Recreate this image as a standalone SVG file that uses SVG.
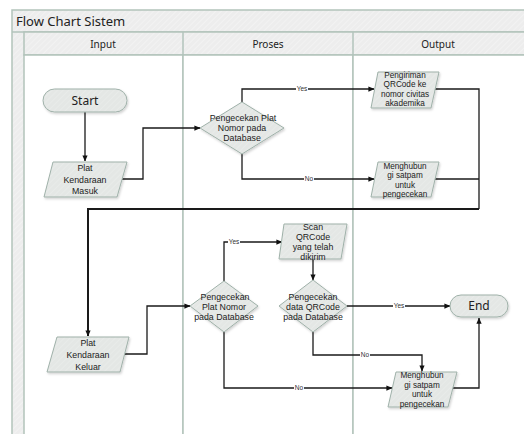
<svg xmlns="http://www.w3.org/2000/svg" width="524" height="434" viewBox="0 0 524 434">
  <defs>
    <pattern id="hatch" width="4" height="4" patternUnits="userSpaceOnUse" patternTransform="rotate(45)">
      <rect width="4" height="4" fill="#ededed"/>
      <line x1="0" y1="0" x2="0" y2="4" stroke="#f6f6f6" stroke-width="1.2"/>
    </pattern>
    <pattern id="shapeFill" width="4" height="4" patternUnits="userSpaceOnUse" patternTransform="rotate(45)">
      <rect width="4" height="4" fill="#e4e7e5"/>
      <line x1="0" y1="0" x2="0" y2="4" stroke="#eceeed" stroke-width="1.2"/>
    </pattern>
    <filter id="shadow" x="-20%" y="-20%" width="140%" height="150%">
      <feDropShadow dx="1" dy="1.5" stdDeviation="0.8" flood-color="#000" flood-opacity="0.18"/>
    </filter>
    <marker id="arrow" viewBox="0 0 8 8" refX="7.5" refY="4" markerWidth="6" markerHeight="6" orient="auto" markerUnits="userSpaceOnUse">
      <path d="M0,0.5 L8,4 L0,7.5 Z" fill="#111"/>
    </marker>
  </defs>
  <style>
    .pool { fill: url(#hatch); stroke: #b2c3bb; stroke-width: 1.5; }
    .lane { fill: #ffffff; stroke: #b2c3bb; stroke-width: 1.5; }
    .shape { fill: url(#shapeFill); stroke: #9fb1a9; stroke-width: 1; filter: url(#shadow); }
    .edge { fill: none; stroke: #1a1a1a; stroke-width: 1.3; }
    .edge-thick { fill: none; stroke: #1a1a1a; stroke-width: 2; }
    text { font-family: "Noto Sans", "DejaVu Sans", sans-serif; fill: #222; text-anchor: middle; }
    .title { font-size: 13px; text-anchor: start; }
    .head { font-size: 10px; }
    .term { font-size: 12px; }
    .node { font-family: "Liberation Sans", Arial, sans-serif; font-size: 8.8px; }
    .small { font-family: "Liberation Sans", Arial, sans-serif; font-size: 8.2px; }
    .lbl { font-family: "Liberation Sans", Arial, sans-serif; font-size: 6.5px; fill: #333; }
    .lblbg { fill: #ffffff; }
  </style>

  <!-- swimlane pool with its three lanes -->
  <g id="pool">
    <rect class="pool" x="12" y="10" width="520" height="430"/>
    <line x1="12" y1="32" x2="532" y2="32" stroke="#b2c3bb" stroke-width="1.5"/>
    <rect class="pool" x="24" y="32" width="508" height="23"/>
    <rect class="lane" x="24" y="55" width="159" height="385"/>
    <rect class="lane" x="183" y="55" width="170" height="385"/>
    <rect class="lane" x="353" y="55" width="179" height="385"/>
    <line x1="183" y1="32" x2="183" y2="55" stroke="#b2c3bb" stroke-width="1.5"/>
    <line x1="353" y1="32" x2="353" y2="55" stroke="#b2c3bb" stroke-width="1.5"/>
    <text class="title" x="16" y="26">Flow Chart Sistem</text>
    <text class="head" x="103" y="47.5">Input</text>
    <text class="head" x="268" y="47.5">Proses</text>
    <text class="head" x="438" y="47.5">Output</text>
  </g>

  <!-- connectors -->
  <g id="connectors">
    <path class="edge" d="M85,112 V161" marker-end="url(#arrow)"/>
    <path class="edge" d="M122,179 H143 V128 H200" marker-end="url(#arrow)"/>
    <path class="edge" d="M242,102 V89 H374" marker-end="url(#arrow)"/>
    <path class="edge" d="M242,154 V179 H374" marker-end="url(#arrow)"/>
    <path class="edge" d="M435,89 H479 V209"/>
    <path class="edge" d="M432,179 H479"/>
    <path class="edge-thick" d="M479,209 H88 V336" marker-end="url(#arrow)"/>
    <path class="edge" d="M125,354 H147 V306 H190" marker-end="url(#arrow)"/>
    <path class="edge" d="M224,281 V242 H282" marker-end="url(#arrow)"/>
    <path class="edge" d="M313,259 V280" marker-end="url(#arrow)"/>
    <path class="edge" d="M347,306 H450" marker-end="url(#arrow)"/>
    <path class="edge" d="M313,332 V355 H422 V371" marker-end="url(#arrow)"/>
    <path class="edge" d="M224,332 V388 H392" marker-end="url(#arrow)"/>
    <path class="edge" d="M452,388 H479 V318" marker-end="url(#arrow)"/>

    <rect class="lblbg" x="296" y="86" width="12" height="6"/>
    <text class="lbl" x="302" y="91.3">Yes</text>
    <rect class="lblbg" x="304" y="176" width="10" height="6"/>
    <text class="lbl" x="309" y="181.3">No</text>
    <rect class="lblbg" x="228" y="239" width="12" height="6"/>
    <text class="lbl" x="234" y="244.3">Yes</text>
    <rect class="lblbg" x="393" y="303" width="12" height="6"/>
    <text class="lbl" x="399" y="308.3">Yes</text>
    <rect class="lblbg" x="360" y="352" width="10" height="6"/>
    <text class="lbl" x="365" y="357.3">No</text>
    <rect class="lblbg" x="294" y="385" width="10" height="6"/>
    <text class="lbl" x="299" y="390.3">No</text>
  </g>

  <!-- nodes -->
  <g id="start">
    <rect class="shape" x="43" y="89" width="84" height="23" rx="11.5"/>
    <text class="term" x="85" y="104.5">Start</text>
  </g>

  <g id="plat-masuk">
    <polygon class="shape" points="53,162 127,162 117,197 44,197"/>
    <text class="node" x="85" y="171">Plat</text>
    <text class="node" x="85" y="182.5">Kendaraan</text>
    <text class="node" x="85" y="194">Masuk</text>
  </g>

  <g id="cek-plat-1">
    <polygon class="shape" points="242,102 284,128 242,154 200,128"/>
    <text class="node" x="243" y="121">Pengecekan Plat</text>
    <text class="node" x="242" y="131">Nomor pada</text>
    <text class="node" x="242" y="141">Database</text>
  </g>

  <g id="kirim-qr">
    <polygon class="shape" points="378,72 439,72 431,108 371,108"/>
    <text class="small" x="405" y="77.5">Pengiriman</text>
    <text class="small" x="405" y="87">QRCode ke</text>
    <text class="small" x="405" y="96.5">nomor civitas</text>
    <text class="small" x="405" y="106">akademika</text>
  </g>

  <g id="hubungi-satpam-1">
    <polygon class="shape" points="378,162 439,162 431,197 371,197"/>
    <text class="small" x="405" y="168.5">Menghubun</text>
    <text class="small" x="405" y="178">gi satpam</text>
    <text class="small" x="405" y="187.5">untuk</text>
    <text class="small" x="405" y="197">pengecekan</text>
  </g>

  <g id="plat-keluar">
    <polygon class="shape" points="57,337 129,337 120,372 47,372"/>
    <text class="node" x="88" y="346">Plat</text>
    <text class="node" x="88" y="358">Kendaraan</text>
    <text class="node" x="88" y="369.5">Keluar</text>
  </g>

  <g id="cek-plat-2">
    <polygon class="shape" points="224,281 258,306 224,332 190,306"/>
    <text class="node" x="225" y="300">Pengecekan</text>
    <text class="node" x="224" y="310">Plat Nomor</text>
    <text class="node" x="224" y="320">pada Database</text>
  </g>

  <g id="scan-qr">
    <polygon class="shape" points="284,224 347,224 341,259 279,259"/>
    <text class="node" x="313" y="230">Scan</text>
    <text class="node" x="313" y="240">QRCode</text>
    <text class="node" x="313" y="250">yang telah</text>
    <text class="node" x="313" y="260">dikirim</text>
  </g>

  <g id="cek-qr">
    <polygon class="shape" points="313,280 347,306 313,332 279,306"/>
    <text class="node" x="313" y="300">Pengecekan</text>
    <text class="node" x="313" y="310">data QRCode</text>
    <text class="node" x="313" y="320">pada Database</text>
  </g>

  <g id="end">
    <rect class="shape" x="450" y="295" width="58" height="22" rx="11"/>
    <text class="term" x="479" y="310">End</text>
  </g>

  <g id="hubungi-satpam-2">
    <polygon class="shape" points="396,372 457,372 448,407 388,407"/>
    <text class="small" x="422" y="378">Menghubun</text>
    <text class="small" x="422" y="387.5">gi satpam</text>
    <text class="small" x="422" y="397">untuk</text>
    <text class="small" x="422" y="406.5">pengecekan</text>
  </g>
</svg>
